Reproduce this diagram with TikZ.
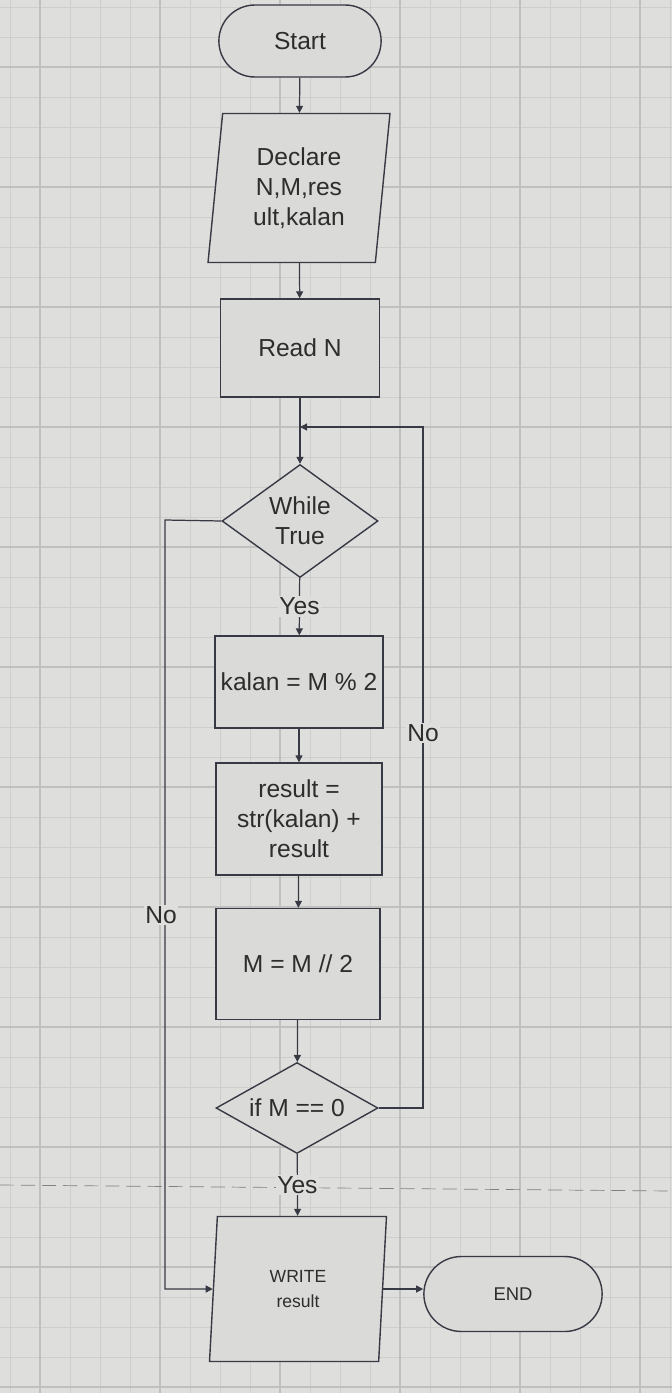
\documentclass[tikz,border=0pt]{standalone}
\usepackage{fontspec}
\setmainfont{Liberation Sans}
\usetikzlibrary{positioning}
\usetikzlibrary{shapes.geometric}
\usetikzlibrary{shapes.misc}
\usetikzlibrary{arrows.meta}
\definecolor{paper}{RGB}{222,222,220}
\definecolor{gridline}{RGB}{206,206,204}
\definecolor{gridmajor}{RGB}{192,192,190}
\definecolor{boxfill}{RGB}{218,218,216}
\definecolor{ink}{RGB}{55,58,68}
\definecolor{txt}{RGB}{45,45,45}

\begin{document}
\begin{tikzpicture}[
    x=0.02cm, y=-0.02cm,
    every node/.style={text=txt, font=\fontsize{14}{17}\selectfont},
    term/.style={draw=ink, line width=0.8pt, fill=boxfill, rounded rectangle, minimum width=3.48cm, minimum height=1.44cm},
    proc/.style={draw=ink, line width=0.8pt, fill=boxfill, rectangle, align=center},
    io/.style={draw=ink, line width=0.8pt, fill=boxfill, trapezium, trapezium left angle=81, trapezium right angle=99,
      trapezium stretches body, align=center, minimum width=3.64cm, minimum height=2.98cm},
    dec/.style={draw=ink, line width=0.8pt, fill=boxfill, diamond, align=center, inner sep=0pt},
    lbl/.style={fill=paper, inner sep=1pt},
    flow/.style={draw=ink, line width=0.7pt, -{Triangle[length=4pt,width=4pt]}}
    ]

    % grid paper
    \useasboundingbox (0,0) rectangle (672,1393);
    \fill[paper] (0,0) rectangle (672,1393);
    \foreach \gx in {10,40,...,670} \draw[gridline, line width=0.4pt] (\gx,0) -- (\gx,1393);
    \foreach \gy in {7,37,...,1390} \draw[gridline, line width=0.4pt] (0,\gy) -- (672,\gy);
    \foreach \gx in {40,160,...,640} \draw[gridmajor, line width=0.6pt] (\gx,0) -- (\gx,1393);
    \foreach \gy in {67,187,...,1390} \draw[gridmajor, line width=0.6pt] (0,\gy) -- (672,\gy);
    \draw[gray, dashed, dash pattern=on 8pt off 4pt] (0,1185) -- (672,1191);

    \node[term] (start) at (300,41) {Start};
    \node[io] (decl) at (299,188) {Declare\\N,M,res\\ult,kalan};
    \node[proc, minimum width=3.18cm, minimum height=1.96cm] (read) at (300,348) {Read N};
    \coordinate (merge) at (300,427);
    \node[dec, minimum width=3.12cm, minimum height=2.26cm] (while) at (300,521) {While\\True};
    \node[proc, minimum width=3.32cm, minimum height=1.84cm] (kalan) at (299,682) {kalan = M \% 2};
    \node[proc, minimum width=3.32cm, minimum height=2.24cm] (res) at (299,819) {result =\\str(kalan) +\\result};
    \node[proc, minimum width=3.28cm, minimum height=2.22cm] (half) at (298,964) {M = M // 2};
    \node[dec, aspect=2, minimum width=3.24cm, minimum height=1.82cm] (ifz) at (297,1108) {if M == 0};
    \node[io, font=\fontsize{10}{14.5}\selectfont, minimum width=3.54cm, minimum height=2.9cm] (write) at (298,1289) {WRITE\\result};
    \node[term, font=\fontsize{10.5}{13}\selectfont, minimum width=3.8cm, minimum height=1.5cm] (end) at (513,1294) {END};
    \coordinate (loopr) at (423,427);
    \coordinate (loopl) at (165,520);

    \draw[flow] (start) -- (decl);
    \draw[flow] (decl) -- (read);
    \draw[flow] (read) -- (while);
    \draw[flow] (while) -- node[lbl] {Yes} (kalan);
    \draw[flow] (kalan) -- (res);
    \draw[flow] (res) -- (half);
    \draw[flow] (half) -- (ifz);
    \draw[flow] (ifz) -- node[lbl] {Yes} (write);
    \draw[flow] (ifz.east) -| (loopr) -- (merge);
    \draw[flow] (while.west) -- (loopl) |- (write.west);
    \draw[flow] (write.east) -- (write.east -| end.west);
    \node[lbl] (no1) at (423,733) {No};
    \node[lbl] (no2) at (161,915) {No};

  \end{tikzpicture}
\end{document}
